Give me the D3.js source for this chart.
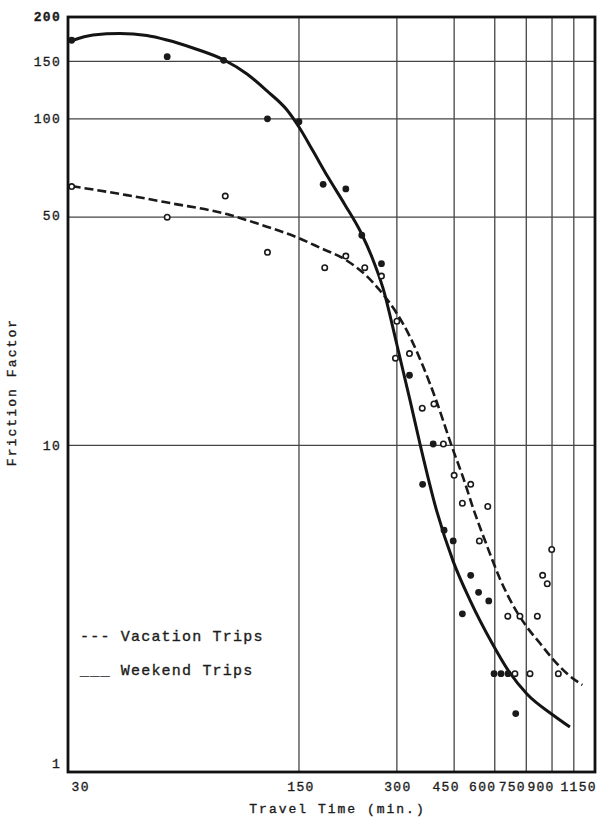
<!DOCTYPE html>
<html><head><meta charset="utf-8">
<script src="https://cdn.jsdelivr.net/npm/d3@7"></script>
<style>
html,body{margin:0;padding:0;background:#fff;}
svg{display:block;}
text{font-family:"Courier New","Liberation Mono",monospace;fill:#1c1c1c;stroke:#1c1c1c;stroke-width:0.35px;}
</style></head><body>
<svg id="chart" width="612" height="820"></svg>
<script>
// ---- data ----
const seriesNames = ["Vacation Trips", "Weekend Trips"];
const legendSymbols = ["---", "___"];
const xTitle = "Travel Time (min.)";
const yTitle = "Friction Factor";
const xTickValues = [30, 150, 300, 450, 600, 750, 900, 1150];
const xGridValues = [150, 300, 450, 600, 750, 900, 1050];
const yTickValues = [1, 10, 50, 100, 150, 200];
const yGridValues = [10, 50, 100, 150];

// observed points: [travel time, friction factor]
const weekendPoints = [
  [30,174],[59,155],[88,151],[120,100],[150,98],[178,63],[209,61],[234,44],
  [269,36],[328,16.4],[360,7.6],[388,10.1],[419,5.5],[447,5.1],[477,3.05],
  [506,4.0],[535,3.55],[575,3.34],[597,2.0],[627,2.0],[659,2.0],[696,1.51]
];
const vacationPoints = [
  [30,62],[59,50],[89,58],[120,39],[180,35],[209,38],[239,35],[269,33],
  [300,24],[297,18.5],[328,19.1],[359,13],[390,13.4],[417,10.1],[450,8.1],
  [506,7.6],[477,6.65],[571,6.5],[538,5.1],[898,4.8],[842,4.0],[870,3.77],
  [658,3.0],[717,3.0],[811,3.0],[692,2.0],[770,2.0],[941,2.0]
];
// fitted curves
const weekendCurve = [
  [30,173.4],[34.9,180.6],[42.2,182.5],[51.1,179.9],[58.9,174.3],[70.8,164.8],[88.3,151.4],
  [103.8,137.2],[119.6,121.7],[137.8,106.4],[150,94.4],[165.7,79.7],[184.2,66.3],
  [207.8,54.5],[233.8,44.4],[251.5,37.7],[271.9,30.3],[300.2,20.3],[329.2,13.77],
  [353.4,10.1],[397.7,6.3],[446.4,4.43],[503.4,3.36],[588.3,2.483],[658.8,2.052],
  [753.6,1.733],[905.9,1.495],[1021.6,1.373]
];
const vacationCurve = [
  [30,62.2],[44.3,58.4],[60.2,55.2],[89.9,51.1],[113.8,47.5],[150,43.1],[174,40.3],
  [209,36.96],[242.3,33.0],[266.2,29.8],[299.6,25.4],[329.2,21.5],[361.7,17.4],
  [397.7,13.6],[442.2,9.96],[480,7.95],[515.4,6.4],[566.7,4.95],[622.7,3.9],
  [684,3.23],[752,2.786],[826.5,2.478],[908,2.21],[998.4,2.005],[1115,1.847]
];

// ---- layout ----
const L = 68, R = 595, T = 17, B = 772;
const svg = d3.select("#chart");
const x = d3.scaleLog().domain([29.23, 1220]).range([L, R]);
const y = d3.scaleLog().domain([1, 205]).range([B, T]);

// grid
svg.append("g").selectAll("line").data(xGridValues).join("line")
  .attr("x1", d => x(d)).attr("x2", d => x(d)).attr("y1", T).attr("y2", B)
  .attr("stroke", "#454545").attr("stroke-width", 1.3);
svg.append("g").selectAll("line").data(yGridValues).join("line")
  .attr("y1", d => y(d)).attr("y2", d => y(d)).attr("x1", L).attr("x2", R)
  .attr("stroke", "#454545").attr("stroke-width", 1.2);

// curves
const line = d3.line().x(d => x(d[0])).y(d => y(d[1])).curve(d3.curveMonotoneX);
svg.append("path").datum(vacationCurve).attr("d", line)
  .attr("fill", "none").attr("stroke", "#1a1a1a").attr("stroke-width", 2.6)
  .attr("stroke-dasharray", "9,4");
svg.append("path").datum(weekendCurve).attr("d", line)
  .attr("fill", "none").attr("stroke", "#141414").attr("stroke-width", 3);

// points
svg.append("g").selectAll("circle").data(vacationPoints).join("circle")
  .attr("cx", d => x(d[0])).attr("cy", d => y(d[1])).attr("r", 2.7)
  .attr("fill", "#fff").attr("stroke", "#1a1a1a").attr("stroke-width", 1.6);
svg.append("g").selectAll("circle").data(weekendPoints).join("circle")
  .attr("cx", d => x(d[0])).attr("cy", d => y(d[1])).attr("r", 3.4)
  .attr("fill", "#1a1a1a");

// frame
svg.append("rect").attr("x", L).attr("y", T).attr("width", R - L).attr("height", B - T)
  .attr("fill", "none").attr("stroke", "#111").attr("stroke-width", 2.8);

// x tick labels (nudged apart where crowded, as in the original)
const xNudge = {30: 9, 150: 2, 300: 1, 450: -8, 600: -12, 750: -14, 900: -11, 1150: -8};
svg.append("g").selectAll("text").data(xTickValues).join("text")
  .attr("x", d => x(d) + xNudge[d]).attr("y", 791)
  .attr("text-anchor", "middle").style("font-size", "13px").style("letter-spacing", "1.3px")
  .text(d => d);

// y tick labels
const yNudge = {1: -9, 10: 0, 50: -2, 100: 0, 150: 0, 200: -4};
svg.append("g").selectAll("text").data(yTickValues).join("text")
  .attr("x", 61).attr("y", d => y(d) + yNudge[d]).attr("dy", "0.36em")
  .attr("text-anchor", "end").style("font-size", "13px").style("letter-spacing", "1.3px")
  .style("font-weight", d => d === 200 ? "bold" : "normal")
  .text(d => d);

// axis titles
svg.append("text").attr("x", (250 + 425) / 2).attr("y", 813).attr("text-anchor", "middle")
  .style("font-size", "13px").style("letter-spacing", "2px").text(xTitle);
svg.append("text").attr("transform", "translate(16,392) rotate(-90)").attr("text-anchor", "middle")
  .style("font-size", "13px").style("letter-spacing", "2.1px").text(yTitle);

// legend (typed symbols)
const legendY = [641, 675];
svg.append("g").selectAll("text").data(seriesNames).join("text")
  .attr("x", 80).attr("y", (d, i) => legendY[i])
  .style("font-size", "15px").style("letter-spacing", "1.2px")
  .text((d, i) => legendSymbols[i] + " " + d);
</script>
</body></html>
